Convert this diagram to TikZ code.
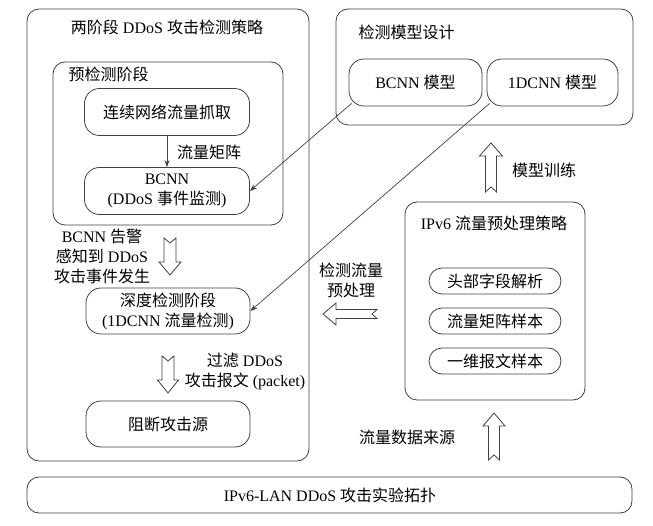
\documentclass[tikz,border=0pt]{standalone}
\usepackage{fontspec}
\setmainfont{Liberation Serif}
\newfontfamily\zhfont{Noto Sans CJK SC}
\newcommand{\zh}[1]{{\zhfont #1}}
\usetikzlibrary{arrows.meta}
\definecolor{linegray}{HTML}{404040}
\tikzset{
  frame/.style = {draw=linegray, line width=0.8pt, rounded corners=12pt},
  box/.style = {draw=linegray, line width=0.8pt, rounded corners=15pt, align=center},
  pill/.style = {draw=linegray, line width=0.8pt, rounded corners=13pt,
                 minimum width=132pt, minimum height=26pt},
  blockarrow/.style = {draw=linegray, line width=0.8pt, fill=white},
  thin/.style = {draw=linegray, line width=0.7pt, -{Stealth[length=7pt,width=5pt]}},
}
% hollow block arrow: #1 tail centre, #2 angle, #3 length, #4 shaft half width, #5 head half width
\newcommand{\hollowarrow}[5]{%
  \draw[blockarrow, shift={#1}, rotate=#2]
    (0,-#4) -- (#3-13,-#4) -- (#3-13,-#5) -- (#3,0) -- (#3-13,#5)
    -- (#3-13,#4) -- (0,#4) -- (5,0) -- cycle;
}

\begin{document}
\begin{tikzpicture}[x=1pt, y=-1pt, every node/.style={font=\fontsize{16}{20}\selectfont}]
    \useasboundingbox (0,0) rectangle (653,526);

    % frames
    \node[frame, minimum width=282pt, minimum height=452pt] (twostage) at (168,235) {};
    \node[frame, minimum width=230pt, minimum height=163pt] (precheck) at (168,143.5) {};
    \node[frame, minimum width=297pt, minimum height=116pt] (modeldesign) at (484.5,67) {};
    \node[frame, minimum width=180pt, minimum height=198pt] (ipv6) at (495,301) {};
    \node[frame, minimum width=605pt, minimum height=36pt] (testbed) at (329.5,495) {};

    \node (twostagetitle) at (167,27) {\zh{两阶段} DDoS \zh{攻击检测策略}};
    \node[anchor=west] (prechecktitle) at (65,74) {\zh{预检测阶段}};
    \node[anchor=west] (modeltitle) at (355,32) {\zh{检测模型设计}};
    \node (ipv6title) at (494,223) {IPv6 \zh{流量预处理策略}};
    \node (testbedtitle) at (330,495) {IPv6-LAN DDoS \zh{攻击实验拓扑}};

    % left column
    \node[box, minimum width=165pt, minimum height=47pt] (grab) at (167,112) {\zh{连续网络流量抓取}};
    \node[box, minimum width=165pt, minimum height=47pt] (bcnn) at (167,191) {BCNN\\(DDoS \zh{事件监测})};
    \node[box, minimum width=164pt, minimum height=46pt] (deep) at (168,311) {\zh{深度检测阶段}\\(1DCNN \zh{流量检测})};
    \node[box, minimum width=164pt, minimum height=46pt] (block) at (168,424) {\zh{阻断攻击源}};

    % models
    \node[box, minimum width=133pt, minimum height=47pt] (bcnnm) at (415.5,82.5) {BCNN \zh{模型}};
    \node[box, minimum width=131pt, minimum height=47pt] (dcnnm) at (552.5,82.5) {1DCNN \zh{模型}};

    % preprocessing
    \node[pill] (parse) at (495,281) {\zh{头部字段解析}};
    \node[pill] (matrix) at (495,321) {\zh{流量矩阵样本}};
    \node[pill] (onedim) at (495,361) {\zh{一维报文样本}};

    % connectors
    \draw[thin] (grab) -- (bcnn);
    \node (matrixlabel) at (209,152) {\zh{流量矩阵}};
    \draw[thin] ([shift={(3,-3)}]bcnnm.south west) -- (bcnn.east);
    \draw[thin] ([shift={(3,-3)}]dcnnm.south west) -- (deep.east);

    \hollowarrow{(170,238)}{-90}{37}{6}{11}
    \node[align=center] (alarmlabel) at (102,256) {BCNN \zh{告警}\\\zh{感知到} DDoS\\\zh{攻击事件发生}};
    \hollowarrow{(168,356)}{-90}{37}{6}{10.5}
    \node[align=center] (filterlabel) at (245,371) {\zh{过滤} DDoS\\\zh{攻击报文} (packet)};
    \hollowarrow{(491,192)}{90}{49}{5.5}{11.5}
    \node (trainlabel) at (544,170) {\zh{模型训练}};
    \hollowarrow{(377,314)}{180}{54}{4.5}{11}
    \node[align=center] (prelabel) at (351,280) {\zh{检测流量}\\\zh{预处理}};
    \hollowarrow{(494,460)}{90}{47}{5.5}{11}
    \node (sourcelabel) at (407,437) {\zh{流量数据来源}};
\end{tikzpicture}
\end{document}
